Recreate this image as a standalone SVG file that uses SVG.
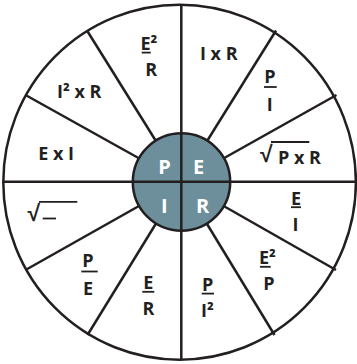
<svg xmlns="http://www.w3.org/2000/svg" width="357" height="364" viewBox="0 0 357 364">
<style>
.ln{stroke:#231f20;stroke-width:2.5;fill:none;stroke-linecap:butt}
.hubc{stroke:#231f20;stroke-width:2.5;fill:#6d8e9b}
.ul{stroke:#231f20;stroke-width:1.8}
.t{font-family:"Open Sans","Liberation Sans","DejaVu Sans",sans-serif;font-weight:700;font-size:18px;fill:#231f20}
.r{font-family:"Liberation Sans","DejaVu Sans",sans-serif;font-weight:700;font-size:23px;fill:#231f20}
.m{text-anchor:middle}
.c{font-family:"Open Sans","Liberation Sans",sans-serif;font-weight:700;font-size:20px;fill:#ffffff;text-anchor:middle}
</style>
<rect width="357" height="364" fill="#ffffff"/>
<g id="wheel">
<ellipse cx="179.6" cy="182.2" rx="176.3" ry="177.5" class="ln"/>
</g>
<g id="spokes">
<line class="ln" x1="181.5" y1="182" x2="87" y2="30.5"/>
<line class="ln" x1="181.5" y1="182" x2="276" y2="30.5"/>
<line class="ln" x1="181.5" y1="182" x2="25.5" y2="95"/>
<line class="ln" x1="181.5" y1="182" x2="336.5" y2="95"/>
<line class="ln" x1="181.5" y1="182" x2="87.5" y2="335"/>
<line class="ln" x1="181.5" y1="182" x2="274.5" y2="335"/>
<line class="ln" x1="181.5" y1="182" x2="25.5" y2="270"/>
<line class="ln" x1="181.5" y1="182" x2="336" y2="270"/>
</g>
<g id="hub">
<circle cx="181.5" cy="182" r="48.7" class="hubc"/>
</g>
<g id="axes">
<line class="ln" x1="181.3" y1="4.5" x2="181.3" y2="360"/>
<line class="ln" x1="3.5" y1="181.7" x2="355.8" y2="181.7"/>
</g>
<g id="hub-letters">
<text class="c" x="164.5" y="174">P</text>
<text class="c" x="198.7" y="174">E</text>
<text class="c" x="164.2" y="213.3">I</text>
<text class="c" x="202.5" y="213.3">R</text>
</g>
<g id="sector-IxR"><text class="t m" x="218.8" y="60">I x R</text></g>
<g id="sector-P-over-I">
<text class="t m" x="270" y="83">P</text>
<line class="ul" x1="264" y1="87" x2="276.7" y2="87"/>
<text class="t m" x="269.7" y="110.5">I</text>
</g>
<g id="sector-sqrt-PxR">
<text class="r" x="260" y="162">√</text>
<line class="ul" x1="271" y1="142" x2="309.3" y2="142"/>
<text class="t m" x="299.5" y="163.5">P x R</text>
</g>
<g id="sector-E-over-I">
<text class="t m" x="296" y="204.5">E</text>
<line class="ul" x1="291" y1="207.2" x2="301" y2="207.2"/>
<text class="t m" x="295.5" y="230.5">I</text>
</g>
<g id="sector-E2-over-P">
<text class="t" x="259" y="264">E²</text>
<line class="ul" x1="260" y1="266.8" x2="270.7" y2="266.8"/>
<text class="t m" x="268.8" y="290">P</text>
</g>
<g id="sector-P-over-I2">
<text class="t m" x="207.7" y="291">P</text>
<line class="ul" x1="201.7" y1="293.6" x2="214" y2="293.6"/>
<text class="t" x="201" y="317.3">I²</text>
</g>
<g id="sector-E-over-R">
<text class="t m" x="148.3" y="289">E</text>
<line class="ul" x1="142.3" y1="291.8" x2="154.3" y2="291.8"/>
<text class="t m" x="148.5" y="315">R</text>
</g>
<g id="sector-P-over-E">
<text class="t m" x="88" y="267.3">P</text>
<line class="ul" x1="81.3" y1="271.5" x2="97.7" y2="271.5"/>
<text class="t m" x="88" y="295">E</text>
</g>
<g id="sector-sqrt">
<text class="r" x="27.5" y="221">√</text>
<line class="ul" x1="39" y1="201.8" x2="77.3" y2="201.8"/>
<line class="ul" x1="42.7" y1="218.5" x2="56" y2="218.5"/>
</g>
<g id="sector-ExI"><text class="t m" x="56.2" y="160">E x I</text></g>
<g id="sector-I2xR"><text class="t m" x="79.3" y="98.3">I² x R</text></g>
<g id="sector-E2-over-R">
<text class="t" x="140.5" y="50">E²</text>
<line class="ul" x1="141.7" y1="52.6" x2="150.7" y2="52.6"/>
<text class="t m" x="151.3" y="76">R</text>
</g>
</svg>
